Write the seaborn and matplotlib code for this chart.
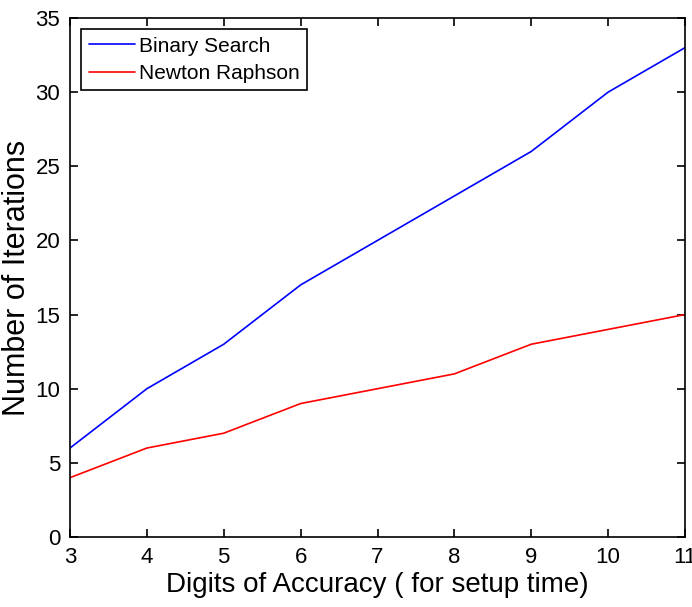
import matplotlib
matplotlib.use("Agg")
import matplotlib.pyplot as plt
import seaborn as sns
import pandas as pd

digits = [3, 4, 5, 6, 7, 8, 9, 10, 11]
binary_search = [6, 10, 13, 17, 20, 23, 26, 30, 33]
newton_raphson = [4, 6, 7, 9, 10, 11, 13, 14, 15]
series_names = ["Binary Search", "Newton Raphson"]
x_ticks = [3, 4, 5, 6, 7, 8, 9, 10, 11]
y_ticks = [0, 5, 10, 15, 20, 25, 30, 35]

df = pd.DataFrame({
    "digits": digits * 2,
    "iters": binary_search + newton_raphson,
    "method": [series_names[0]] * len(digits) + [series_names[1]] * len(digits),
})

sns.set_style("ticks")
plt.rcParams["font.family"] = ["Liberation Sans", "DejaVu Sans"]
plt.rcParams["text.color"] = "black"
plt.rcParams["axes.labelcolor"] = "black"

fig = plt.figure(figsize=(6.92, 6.07), dpi=100)
ax = fig.add_axes([70 / 692, (607 - 537) / 607, 615 / 692, 519 / 607])
sns.lineplot(data=df, x="digits", y="iters", hue="method",
             palette={series_names[0]: "#0000ff", series_names[1]: "#ff0000"},
             linewidth=1.2, ax=ax, legend=True)

ax.set_xlim(3, 11)
ax.set_ylim(0, 35)
ax.set_xticks(x_ticks)
ax.set_yticks(y_ticks)
ax.tick_params(direction="in", top=True, right=True, length=6, width=1.2,
               labelsize=16, colors="black", pad=7)
for s in ax.spines.values():
    s.set_linewidth(1.2)
    s.set_color("black")
ax.set_xlabel("Digits of Accuracy ( for setup time)", fontsize=20, labelpad=3)
ax.set_ylabel("Number of Iterations", fontsize=22)
ax.yaxis.set_label_coords(-0.061, 0.5)

leg = ax.legend(loc="upper left", fontsize=15, frameon=True, fancybox=False,
                edgecolor="black", handlelength=2.2, borderaxespad=0.55,
                borderpad=0.35, labelspacing=0.4, handletextpad=0.2)
leg.get_frame().set_linewidth(1.2)
leg.get_frame().set_alpha(1)

fig.savefig("out.png", dpi=100)
